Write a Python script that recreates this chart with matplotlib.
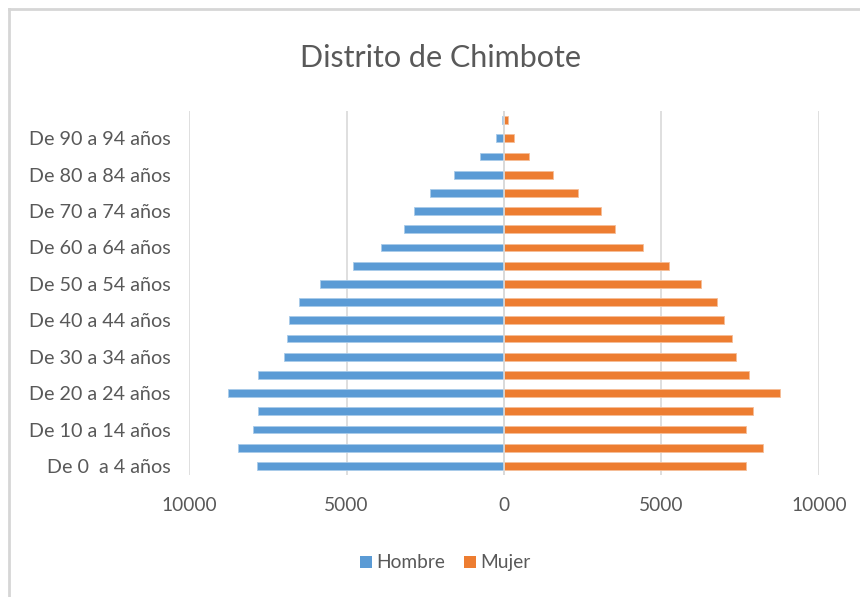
import matplotlib; matplotlib.use("Agg")
import matplotlib.pyplot as plt
from matplotlib.lines import Line2D
from matplotlib.patches import Patch

plt.rcParams["font.family"] = ["Lato", "DejaVu Sans"]

grupos = ["De 0  a 4 años", "De 5 a 9 años", "De 10 a 14 años", "De 15 a 19 años",
          "De 20 a 24 años", "De 25 a 29 años", "De 30 a 34 años", "De 35 a 39 años",
          "De 40 a 44 años", "De 45 a 49 años", "De 50 a 54 años", "De 55 a 59 años",
          "De 60 a 64 años", "De 65 a 69 años", "De 70 a 74 años", "De 75 a 79 años",
          "De 80 a 84 años", "De 85 a 89 años", "De 90 a 94 años", "De 95 a más años"]
hombre = [7850, 8460, 7980, 7800, 8750, 7800, 7000, 6900, 6820, 6520,
          5840, 4780, 3900, 3180, 2850, 2340, 1580, 770, 260, 50]
mujer = [7680, 8230, 7680, 7900, 8760, 7780, 7380, 7230, 6980, 6760,
         6250, 5230, 4400, 3520, 3080, 2350, 1550, 790, 320, 130]
ticks_x = [-10000, -5000, 0, 5000, 10000]

AZUL = "#5B9BD5"
NARANJA = "#ED7D31"
GRIS_TXT = "#595959"
GRIS_LIN = "#D9D9D9"

fig = plt.figure(figsize=(8.6, 5.97), dpi=100)
ax = fig.add_axes([0.2198, 0.2042, 0.7325, 0.610])

pos = list(range(len(grupos)))
ax.barh(pos, [-v for v in hombre], height=0.43, color=AZUL, edgecolor="#A9CBEA", lw=0.6, zorder=3)
ax.barh(pos, mujer, height=0.43, color=NARANJA, edgecolor="#F6BE98", lw=0.6, zorder=3)

ax.set_xlim(-10000, 10000)
ax.set_ylim(-0.5, len(grupos) - 0.5)
ax.set_xticks(ticks_x)
ax.set_xticklabels([str(abs(t)) for t in ticks_x], fontsize=13.8, color=GRIS_TXT)
ax.set_yticks(pos[::2])
ax.set_yticklabels(grupos[::2], fontsize=14.2, color=GRIS_TXT)
ax.tick_params(axis="both", length=0)
ax.tick_params(axis="y", pad=13.5)
ax.tick_params(axis="x", pad=16)
ax.grid(axis="x", color=GRIS_LIN, lw=1.2, zorder=0)
ax.axvline(0, color=GRIS_LIN, lw=1.2, zorder=4)
for s in ax.spines.values():
    s.set_visible(False)

fig.text(0.512, 0.903, "Distrito de Chimbote", ha="center", va="center",
         fontsize=22, color=GRIS_TXT)

handles = [Patch(facecolor=AZUL, label="Hombre"), Patch(facecolor=NARANJA, label="Mujer")]
fig.legend(handles=handles, loc="center", bbox_to_anchor=(0.518, 0.057), ncol=2, frameon=False,
           fontsize=13.8, labelcolor=GRIS_TXT, handlelength=0.6, handleheight=0.6,
           handletextpad=0.25, columnspacing=1.0)

# marco del gráfico (borde superior e izquierdo)
fig.add_artist(Line2D([0.0105, 1.0], [0.985, 0.985], transform=fig.transFigure, color="#D6D6D6", lw=2))
fig.add_artist(Line2D([0.0105, 0.0105], [0.0, 0.985], transform=fig.transFigure, color="#D6D6D6", lw=2))

fig.savefig("out.png", dpi=100)
